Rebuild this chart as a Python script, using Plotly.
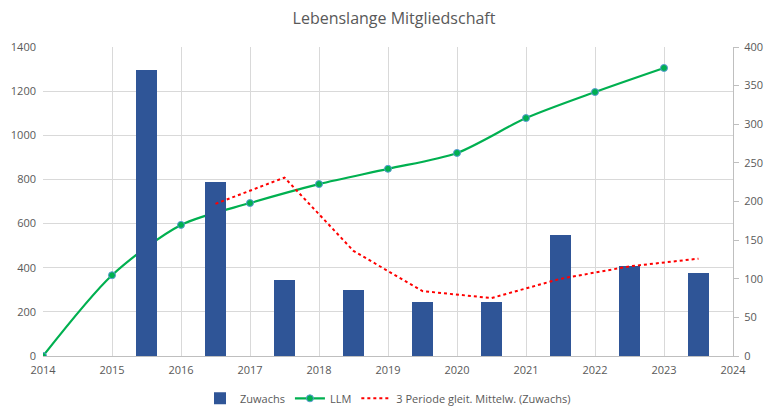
import plotly.graph_objects as go

years = [2014, 2015, 2016, 2017, 2018, 2019, 2020, 2021, 2022, 2023]
llm = [0, 366, 594, 693, 779, 848, 920, 1078, 1196, 1305]

bar_x = [2015.5, 2016.5, 2017.5, 2018.5, 2019.5, 2020.5, 2021.5, 2022.5, 2023.5]
zuwachs = [370, 225, 98, 85, 70, 70, 157, 116, 107]

ma_x = [2016.5, 2017.5, 2018.5, 2019.5, 2020.5, 2021.5, 2022.5, 2023.5]
ma_vals = [197, 231, 136, 84, 75, 100, 116, 126]

grid = "#d9d9d9"
txt = "#595959"
font_family = "Open Sans, Noto Sans, sans-serif"

fig = go.Figure()
fig.add_trace(go.Bar(
    x=bar_x, y=zuwachs, name="Zuwachs", yaxis="y2",
    marker=dict(color="#2f5597", line=dict(width=0)), width=0.29,
))
fig.add_trace(go.Scatter(
    x=years, y=llm, name="LLM", mode="lines+markers",
    line=dict(color="#00b050", width=2.2, shape="spline", smoothing=0.8),
    marker=dict(color="#00b050", size=7, line=dict(color="#5b9bd5", width=1)),
))
fig.add_trace(go.Scatter(
    x=ma_x, y=ma_vals, name="3 Periode gleit. Mittelw. (Zuwachs)", yaxis="y2",
    mode="lines", line=dict(color="#ff0000", width=2, dash="dot"),
))

fig.update_layout(
    width=772, height=418,
    margin=dict(l=35, r=47, t=39, b=70, autoexpand=False),
    paper_bgcolor="white", plot_bgcolor="white",
    font=dict(family=font_family, size=11, color=txt),
    title=dict(text="Lebenslange Mitgliedschaft", x=0.5, xanchor="center",
               y=0.976, yanchor="middle",
               font=dict(size=16, color=txt, family=font_family)),
    showlegend=True,
    legend=dict(orientation="h", x=0.5, xanchor="center", y=-0.09, yanchor="top",
                font=dict(size=11, color=txt), traceorder="normal"),
    bargap=0,
    xaxis=dict(range=[2014, 2024], dtick=1, tick0=2014, showgrid=True,
               gridcolor=grid, gridwidth=1, zeroline=False,
               showline=True, linecolor="#bfbfbf", linewidth=1,
               ticks="", ticklabelstandoff=4, tickfont=dict(size=11, color=txt)),
    yaxis=dict(range=[0, 1400], dtick=200, showgrid=True, gridcolor=grid,
               gridwidth=1, zeroline=False, showline=False, ticks="",
               ticklabelstandoff=6, tickfont=dict(size=11, color=txt)),
    yaxis2=dict(range=[0, 400], dtick=50, overlaying="y", side="right",
                showgrid=False, zeroline=False, showline=True,
                linecolor="#bfbfbf", linewidth=1, ticks="outside",
                ticklen=5, tickcolor="#bfbfbf", ticklabelstandoff=3,
                tickfont=dict(size=11, color=txt)),
)

fig.write_html("out.html")
